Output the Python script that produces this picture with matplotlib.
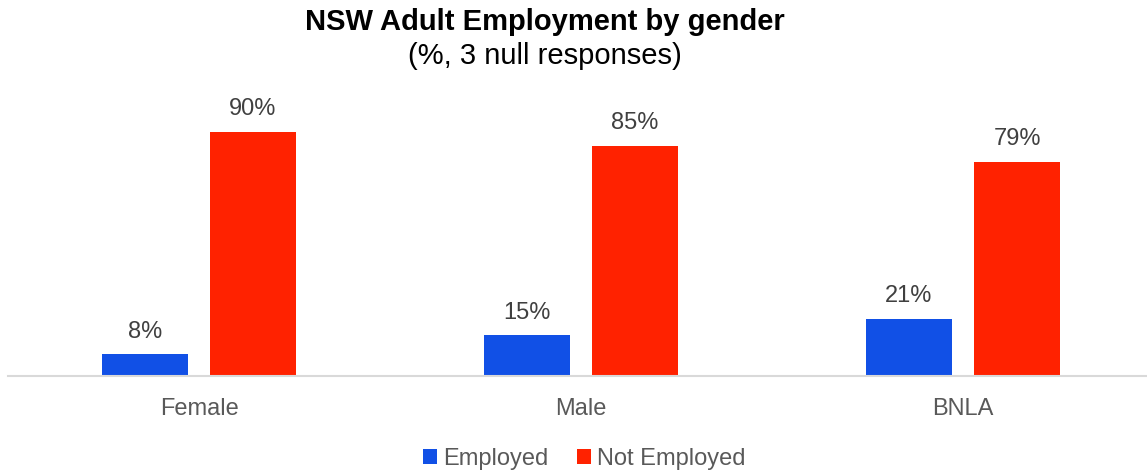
import matplotlib
matplotlib.use("Agg")
import matplotlib.pyplot as plt
import numpy as np

plt.rcParams['font.family'] = ['Liberation Sans', 'DejaVu Sans']

categories = ["Female", "Male", "BNLA"]
employed = [8, 15, 21]
not_employed = [90, 85, 79]
series_names = ["Employed", "Not Employed"]
colors = ["#1150E6", "#FF2200"]

W, H = 1147, 472
fig = plt.figure(figsize=(W / 100, H / 100), dpi=100)
ax = fig.add_axes([8 / W, (H - 376) / H, 1146 / W, 271 / H])

x = np.arange(len(categories))
bw = 0.225
off = 0.1414
b1 = ax.bar(x - off, employed, bw, color=colors[0], label=series_names[0])
b2 = ax.bar(x + off, not_employed, bw, color=colors[1], label=series_names[1])

for bars, vals in ((b1, employed), (b2, not_employed)):
    for rect, v in zip(bars, vals):
        ax.annotate(f"{v}%", (rect.get_x() + rect.get_width() / 2, v),
                    xytext=(0, 8.5), textcoords="offset points",
                    ha="center", va="bottom", fontsize=17, color="#404040")

ax.set_xlim(-0.5, 2.5)
ax.set_ylim(0, 100)
ax.set_xticks(x)
ax.set_xticklabels(categories, fontsize=17, color="#595959")
ax.tick_params(axis="x", length=0, pad=16)
ax.set_yticks([])
for s in ("top", "right", "left"):
    ax.spines[s].set_visible(False)
ax.spines["bottom"].set_color("#D9D9D9")
ax.spines["bottom"].set_linewidth(1.5)

fig.text(545 / W, 1 - 22 / H, "NSW Adult Employment by gender", ha="center", va="center",
         fontsize=21, fontweight="bold", color="black")
fig.text(545 / W, 1 - 56 / H, "(%, 3 null responses)", ha="center", va="center",
         fontsize=21, color="black")

leg = fig.legend(handles=[b1, b2], labels=series_names, loc="center",
                 bbox_to_anchor=(584 / W, 1 - 459 / H), ncol=2, frameon=False,
                 fontsize=17, handlelength=0.6, handleheight=0.6,
                 handletextpad=0.25, columnspacing=1.2)
for t in leg.get_texts():
    t.set_color("#595959")

fig.savefig("out.png", dpi=100)
